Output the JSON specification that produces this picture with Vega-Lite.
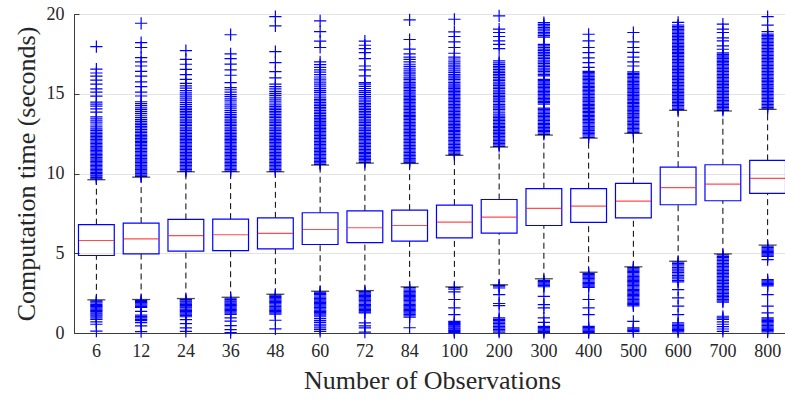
{
  "$schema": "https://vega.github.io/schema/vega-lite/v6.json",
  "width": 711,
  "height": 319,
  "autosize": {"type": "none"},
  "padding": {"left": 74, "top": 14, "right": 0, "bottom": 67},
  "background": "white",
  "config": {
    "view": {"stroke": "#3a3a3a", "strokeWidth": 1},
    "axis": {
      "labelFont": "Liberation Serif", "titleFont": "Liberation Serif",
      "labelFontSize": 18, "titleFontSize": 26, "titleFontWeight": "normal",
      "labelColor": "#262626", "titleColor": "#262626",
      "domainColor": "#3a3a3a", "tickColor": "#3a3a3a", "gridColor": "#e3e3e3"
    }
  },
  "datasets": {
    "stats": [
      {"n": "6", "lo": 2.08, "q1": 4.86, "med": 5.80, "q3": 6.79, "hi": 9.61},
      {"n": "12", "lo": 2.10, "q1": 4.96, "med": 5.90, "q3": 6.89, "hi": 9.77},
      {"n": "24", "lo": 2.16, "q1": 5.13, "med": 6.11, "q3": 7.12, "hi": 10.11},
      {"n": "36", "lo": 2.24, "q1": 5.17, "med": 6.16, "q3": 7.14, "hi": 10.11},
      {"n": "48", "lo": 2.43, "q1": 5.28, "med": 6.24, "q3": 7.22, "hi": 10.11},
      {"n": "60", "lo": 2.62, "q1": 5.55, "med": 6.49, "q3": 7.54, "hi": 10.53},
      {"n": "72", "lo": 2.66, "q1": 5.66, "med": 6.60, "q3": 7.66, "hi": 10.65},
      {"n": "84", "lo": 2.89, "q1": 5.76, "med": 6.74, "q3": 7.70, "hi": 10.63},
      {"n": "100", "lo": 2.89, "q1": 5.97, "med": 6.95, "q3": 8.02, "hi": 11.14},
      {"n": "200", "lo": 3.02, "q1": 6.26, "med": 7.26, "q3": 8.37, "hi": 11.66},
      {"n": "300", "lo": 3.40, "q1": 6.74, "med": 7.81, "q3": 9.05, "hi": 12.41},
      {"n": "400", "lo": 3.81, "q1": 6.93, "med": 7.95, "q3": 9.05, "hi": 12.22},
      {"n": "500", "lo": 4.15, "q1": 7.22, "med": 8.27, "q3": 9.38, "hi": 12.52},
      {"n": "600", "lo": 4.50, "q1": 8.04, "med": 9.11, "q3": 10.40, "hi": 13.96},
      {"n": "700", "lo": 4.96, "q1": 8.29, "med": 9.33, "q3": 10.55, "hi": 13.92},
      {"n": "800", "lo": 5.51, "q1": 8.75, "med": 9.69, "q3": 10.82, "hi": 14.02}
    ],
    "out": [
      {"n": "6", "t": [9.66,9.74,9.83,9.9,9.99,10.07,10.16,10.24,10.33,10.41,10.5,10.58,10.67,10.75,10.84,10.92,11.01,11.1,11.18,11.27,11.35,11.44,11.53,11.61,11.7,11.79,11.88,11.96,12.05,12.14,12.23,12.32,12.41,12.5,12.6,12.7,12.8,12.92,13.04,13.17,13.3,13.42,13.55,13.85,14.05,14.22,14.35,14.48,14.85,15.1,15.3,15.6,15.85,16.1,16.3,16.55,17.96,2.02,1.95,1.88,1.8,1.72,1.65,1.57,1.5,1.42,1.35,1.27,1.2,1.12,1.05,0.95,0.85,0.7,0.55,0.12]},
      {"n": "12", "t": [9.82,9.9,9.99,10.08,10.16,10.25,10.34,10.42,10.51,10.6,10.69,10.77,10.86,10.95,11.04,11.13,11.21,11.3,11.39,11.48,11.57,11.66,11.75,11.84,11.93,12.02,12.11,12.2,12.29,12.38,12.47,12.57,12.66,12.76,12.86,12.96,13.06,13.16,13.27,13.38,13.5,13.62,13.75,13.88,14.0,14.12,14.25,14.38,14.5,14.86,15.1,15.45,15.75,16.1,16.4,16.74,17.0,17.27,17.9,18.2,19.42,2.05,1.97,1.9,1.82,1.75,1.67,1.6,1.35,1.12,1.03,0.95,0.86,0.78,0.65,0.45,0.08]},
      {"n": "24", "t": [10.15,10.24,10.33,10.42,10.51,10.6,10.69,10.78,10.87,10.96,11.05,11.14,11.23,11.32,11.41,11.5,11.59,11.68,11.77,11.86,11.95,12.04,12.13,12.22,12.31,12.4,12.5,12.6,12.7,12.8,12.9,13.0,13.1,13.2,13.3,13.4,13.5,13.6,13.7,13.8,13.9,14.0,14.1,14.2,14.32,14.44,14.56,14.68,14.8,14.93,15.06,15.2,15.35,15.5,15.65,15.9,16.2,16.53,16.85,17.15,17.7,2.1,2.02,1.95,1.87,1.8,1.72,1.64,1.57,1.49,1.42,1.34,1.26,1.18,1.1,1.02,0.84,0.59,0.32,0.1]},
      {"n": "36", "t": [10.15,10.24,10.33,10.42,10.51,10.6,10.69,10.78,10.87,10.96,11.05,11.14,11.23,11.32,11.41,11.5,11.59,11.68,11.77,11.86,11.95,12.04,12.13,12.22,12.31,12.4,12.5,12.6,12.7,12.8,12.9,13.0,13.1,13.2,13.3,13.4,13.5,13.6,13.7,13.82,13.94,14.06,14.18,14.3,14.42,14.55,14.68,14.82,14.95,15.1,15.25,15.38,15.7,16.16,16.5,16.86,17.2,17.5,18.7,2.18,2.1,2.02,1.95,1.87,1.8,1.72,1.64,1.56,1.48,1.4,1.32,1.24,1.16,0.95,0.74,0.46,0.21,0.03]},
      {"n": "48", "t": [10.15,10.24,10.33,10.42,10.51,10.6,10.69,10.78,10.87,10.96,11.05,11.14,11.23,11.32,11.41,11.5,11.59,11.68,11.77,11.86,11.95,12.04,12.13,12.22,12.31,12.4,12.5,12.6,12.7,12.8,12.9,13.0,13.1,13.2,13.3,13.4,13.5,13.6,13.7,13.8,13.9,14.0,14.1,14.2,14.3,14.42,14.54,14.66,14.78,14.9,15.02,15.15,15.3,15.45,15.6,16.0,16.39,16.95,17.64,19.25,19.84,2.38,2.3,2.22,2.14,2.06,1.98,1.9,1.82,1.74,1.66,1.58,1.5,1.42,1.34,1.26,1.18,0.8,0.26]},
      {"n": "60", "t": [10.57,10.66,10.75,10.84,10.93,11.02,11.11,11.2,11.29,11.38,11.47,11.56,11.65,11.74,11.83,11.92,12.01,12.1,12.19,12.28,12.37,12.46,12.55,12.64,12.73,12.82,12.91,13.0,13.09,13.18,13.27,13.36,13.45,13.55,13.65,13.75,13.85,13.95,14.05,14.15,14.25,14.35,14.45,14.55,14.65,14.75,14.86,14.97,15.08,15.2,15.32,15.44,15.56,15.68,15.8,15.92,16.05,16.2,16.35,16.5,16.65,16.82,17.0,17.9,18.3,18.9,19.57,2.56,2.48,2.4,2.32,2.24,2.16,2.08,2.0,1.92,1.84,1.76,1.68,1.6,1.52,1.44,1.36,1.28,1.2,1.12,1.02,0.9,0.78,0.66,0.55,0.45,0.32,0.22,0.1]},
      {"n": "72", "t": [10.7,10.79,10.88,10.97,11.06,11.15,11.24,11.33,11.42,11.51,11.6,11.69,11.78,11.87,11.96,12.05,12.14,12.23,12.32,12.41,12.5,12.6,12.7,12.8,12.9,13.0,13.1,13.2,13.3,13.4,13.5,13.6,13.7,13.8,13.9,14.0,14.1,14.2,14.3,14.4,14.5,14.6,14.72,14.84,14.96,15.08,15.2,15.33,15.46,15.6,15.7,16.12,16.5,16.74,17.2,17.58,17.83,18.04,18.3,2.6,2.52,2.44,2.36,2.28,2.2,2.12,2.04,1.96,1.88,1.8,1.72,1.64,1.56,1.48,1.4,1.32,1.26,0.63,0.45,0.32,0.05]},
      {"n": "84", "t": [10.68,10.77,10.86,10.95,11.04,11.13,11.22,11.31,11.4,11.49,11.58,11.67,11.76,11.85,11.94,12.03,12.12,12.21,12.3,12.39,12.48,12.57,12.66,12.75,12.84,12.93,13.02,13.11,13.2,13.29,13.38,13.47,13.56,13.65,13.74,13.83,13.92,14.01,14.1,14.19,14.28,14.37,14.46,14.55,14.64,14.73,14.82,14.91,15.0,15.1,15.2,15.3,15.4,15.5,15.6,15.7,15.8,15.9,16.0,16.12,16.24,16.36,16.48,16.6,16.72,16.85,17.0,17.15,17.3,17.5,17.8,18.4,19.63,2.84,2.76,2.68,2.6,2.52,2.44,2.36,2.28,2.2,2.12,2.04,1.96,1.88,1.8,1.72,1.64,1.56,1.48,1.4,1.32,1.24,1.16,1.08,1.0,0.33]},
      {"n": "100", "t": [11.18,11.27,11.36,11.45,11.54,11.63,11.72,11.81,11.9,11.99,12.08,12.17,12.26,12.35,12.44,12.53,12.62,12.71,12.8,12.89,12.98,13.07,13.16,13.25,13.34,13.43,13.52,13.61,13.7,13.79,13.88,13.97,14.06,14.15,14.24,14.33,14.42,14.51,14.6,14.69,14.78,14.87,14.96,15.05,15.14,15.23,15.32,15.41,15.5,15.6,15.7,15.8,15.9,16.0,16.1,16.2,16.32,16.44,16.56,16.68,16.8,16.92,17.05,17.18,17.3,17.54,17.9,18.25,18.59,18.88,19.67,2.85,2.75,2.58,2.1,1.57,1.15,0.73,0.66,0.59,0.52,0.45,0.38,0.31,0.24,0.17,0.1,0.03]},
      {"n": "200", "t": [11.7,11.79,11.88,11.97,12.06,12.15,12.24,12.33,12.42,12.51,12.6,12.69,12.78,12.87,12.96,13.05,13.14,13.23,13.32,13.41,13.5,13.59,13.68,13.8,13.92,14.02,14.12,14.22,14.32,14.42,14.52,14.62,14.72,14.82,14.92,15.02,15.12,15.22,15.32,15.42,15.52,15.62,15.72,15.82,15.92,16.02,16.12,16.22,16.32,16.42,16.52,16.62,16.72,16.82,16.94,17.06,17.83,18.1,18.31,18.59,18.84,19.05,19.88,2.98,2.9,2.82,2.41,1.85,1.72,0.95,0.86,0.77,0.68,0.59,0.5,0.41,0.32,0.23,0.14,0.05]},
      {"n": "300", "t": [12.45,12.54,12.62,12.71,12.8,12.88,12.97,13.06,13.14,13.23,13.32,13.4,13.49,13.58,13.66,13.75,13.84,13.93,14.02,14.1,14.35,14.44,14.52,14.61,14.7,14.78,14.87,14.96,15.05,15.13,15.22,15.31,15.4,15.48,15.57,15.66,15.75,15.84,15.9,16.12,16.2,16.3,16.4,16.5,16.6,16.7,16.8,16.9,17.0,17.1,17.2,17.3,17.4,17.5,17.6,17.7,17.8,17.9,18.0,18.1,18.55,18.65,18.75,18.85,18.95,19.05,19.15,19.25,19.35,19.46,3.3,3.22,3.14,3.06,2.98,2.9,2.3,1.78,1.57,0.95,0.67,0.42,0.34,0.26,0.18,0.1,0.03]},
      {"n": "400", "t": [12.26,12.35,12.43,12.52,12.6,12.69,12.78,12.86,12.95,13.04,13.12,13.21,13.3,13.38,13.47,13.56,13.64,13.73,13.82,13.9,13.99,14.08,14.16,14.25,14.34,14.42,14.51,14.6,14.68,14.77,14.86,14.94,15.03,15.12,15.2,15.29,15.38,15.46,15.55,15.64,15.72,15.81,15.9,15.98,16.07,16.16,16.24,16.33,16.4,16.65,16.95,17.25,17.58,17.9,18.31,18.73,3.74,3.66,3.58,3.5,3.42,3.34,3.26,3.18,3.1,3.02,2.94,2.86,2.1,1.57,1.15,0.42,0.34,0.26,0.18,0.1,0.03]},
      {"n": "500", "t": [12.56,12.65,12.73,12.82,12.9,12.99,13.08,13.16,13.25,13.34,13.42,13.51,13.6,13.68,13.77,13.86,13.94,14.03,14.12,14.2,14.29,14.38,14.46,14.55,14.64,14.72,14.81,14.9,14.98,15.07,15.16,15.24,15.33,15.42,15.5,15.59,15.68,15.76,15.85,15.94,16.02,16.11,16.2,16.28,16.37,16.74,17.0,17.3,17.6,17.9,18.25,18.84,4.1,4.02,3.94,3.86,3.78,3.7,3.62,3.54,3.46,3.38,3.3,3.22,3.14,3.06,2.98,2.9,2.82,2.74,2.66,2.58,2.5,2.42,2.34,2.26,2.18,2.1,2.02,1.94,1.86,1.78,1.7,0.73,0.32,0.24,0.16,0.08]},
      {"n": "600", "t": [14.0,14.09,14.18,14.27,14.36,14.45,14.54,14.63,14.72,14.81,14.9,14.99,15.08,15.17,15.26,15.35,15.44,15.53,15.62,15.71,15.8,15.89,15.98,16.07,16.16,16.25,16.34,16.43,16.52,16.61,16.7,16.79,16.88,16.97,17.06,17.15,17.24,17.33,17.42,17.51,17.6,17.69,17.78,17.87,17.96,18.05,18.14,18.23,18.32,18.41,18.5,18.59,18.68,18.77,18.86,18.95,19.04,19.13,19.22,19.31,19.47,4.45,4.36,4.28,4.2,4.1,4.0,3.9,3.8,3.7,3.6,3.5,3.4,3.3,3.2,2.72,2.2,1.68,1.15,0.63,0.55,0.47,0.39,0.31,0.23,0.15,0.07]},
      {"n": "700", "t": [13.96,14.05,14.14,14.23,14.32,14.41,14.5,14.59,14.68,14.77,14.86,14.95,15.04,15.13,15.22,15.31,15.4,15.49,15.58,15.67,15.76,15.85,15.94,16.03,16.12,16.21,16.3,16.39,16.48,16.57,16.66,16.75,16.84,16.93,17.02,17.11,17.2,17.29,17.38,17.47,17.56,17.79,18.0,18.31,18.5,18.84,19.05,19.36,4.9,4.81,4.72,4.63,4.54,4.45,4.36,4.27,4.18,4.09,4.0,3.91,3.82,3.73,3.64,3.55,3.46,3.37,3.28,3.19,3.1,3.01,2.92,2.83,2.74,2.65,2.56,2.47,2.38,2.29,2.2,2.11,2.02,1.93,1.05,0.95,0.85,0.7,0.55,0.4,0.25,0.1]},
      {"n": "800", "t": [14.06,14.15,14.24,14.33,14.42,14.51,14.6,14.69,14.78,14.87,14.96,15.05,15.14,15.23,15.32,15.41,15.5,15.59,15.68,15.77,15.86,15.95,16.04,16.13,16.22,16.31,16.4,16.49,16.58,16.67,16.76,16.85,16.94,17.03,17.12,17.21,17.3,17.39,17.48,17.57,17.66,17.75,17.84,17.93,18.02,18.11,18.2,18.29,18.38,18.47,18.56,18.65,18.74,18.9,19.3,19.84,5.44,5.36,5.28,5.2,5.12,5.04,4.96,4.88,4.8,4.6,3.35,3.27,3.19,3.11,3.03,2.95,2.41,1.68,1.26,0.95,0.87,0.79,0.71,0.63,0.55,0.47,0.39,0.31,0.23,0.15,0.07]}
    ]
  },
  "encoding": {
    "x": {"field": "n", "type": "nominal", "sort": null,
      "scale": {"domain": ["6","12","24","36","48","60","72","84","100","200","300","400","500","600","700","800"], "range": [0, 716], "paddingInner": 0, "paddingOuter": 0},
      "axis": {"title": "Number of Observations", "labelAngle": 0, "tickSize": -5, "labelPadding": 14, "titlePadding": 7, "grid": false}}
  },
  "layer": [
    {
      "data": {"name": "stats"},
      "mark": {"type": "rule", "color": "black", "strokeWidth": 1, "strokeDash": [6, 4]},
      "encoding": {
        "y": {"field": "q3", "type": "quantitative",
          "scale": {"domain": [0, 20], "nice": false, "zero": false},
          "axis": {"title": "Computation time (seconds)", "values": [0, 5, 10, 15, 20], "grid": true, "tickSize": -5, "labelPadding": 15, "titlePadding": 7}},
        "y2": {"field": "hi"}
      }
    },
    {
      "data": {"name": "stats"},
      "mark": {"type": "rule", "color": "black", "strokeWidth": 1, "strokeDash": [6, 4]},
      "encoding": {
        "y": {"field": "lo", "type": "quantitative"},
        "y2": {"field": "q1"}
      }
    },
    {
      "data": {"name": "stats"},
      "mark": {"type": "bar", "width": {"band": 0.8}, "fill": "white", "fillOpacity": 0, "stroke": "#0000ff", "strokeWidth": 1.2},
      "encoding": {
        "y": {"field": "q1", "type": "quantitative"},
        "y2": {"field": "q3"}
      }
    },
    {
      "data": {"name": "stats"},
      "mark": {"type": "tick", "color": "#ff0000", "size": 35, "thickness": 1.2},
      "encoding": {
        "y": {"field": "med", "type": "quantitative"}
      }
    },
    {
      "data": {"name": "out"},
      "transform": [{"flatten": ["t"]}],
      "mark": {"type": "point", "shape": "M-1,0L1,0M0,-1L0,1", "size": 150, "filled": false, "stroke": "#0000ff", "strokeWidth": 1.2, "opacity": 1},
      "encoding": {
        "y": {"field": "t", "type": "quantitative"}
      }
    },
    {
      "data": {"name": "stats"},
      "mark": {"type": "tick", "color": "black", "size": 18, "thickness": 1.3},
      "encoding": {
        "y": {"field": "hi", "type": "quantitative"}
      }
    },
    {
      "data": {"name": "stats"},
      "mark": {"type": "tick", "color": "black", "size": 18, "thickness": 1.3},
      "encoding": {
        "y": {"field": "lo", "type": "quantitative"}
      }
    }
  ]
}
